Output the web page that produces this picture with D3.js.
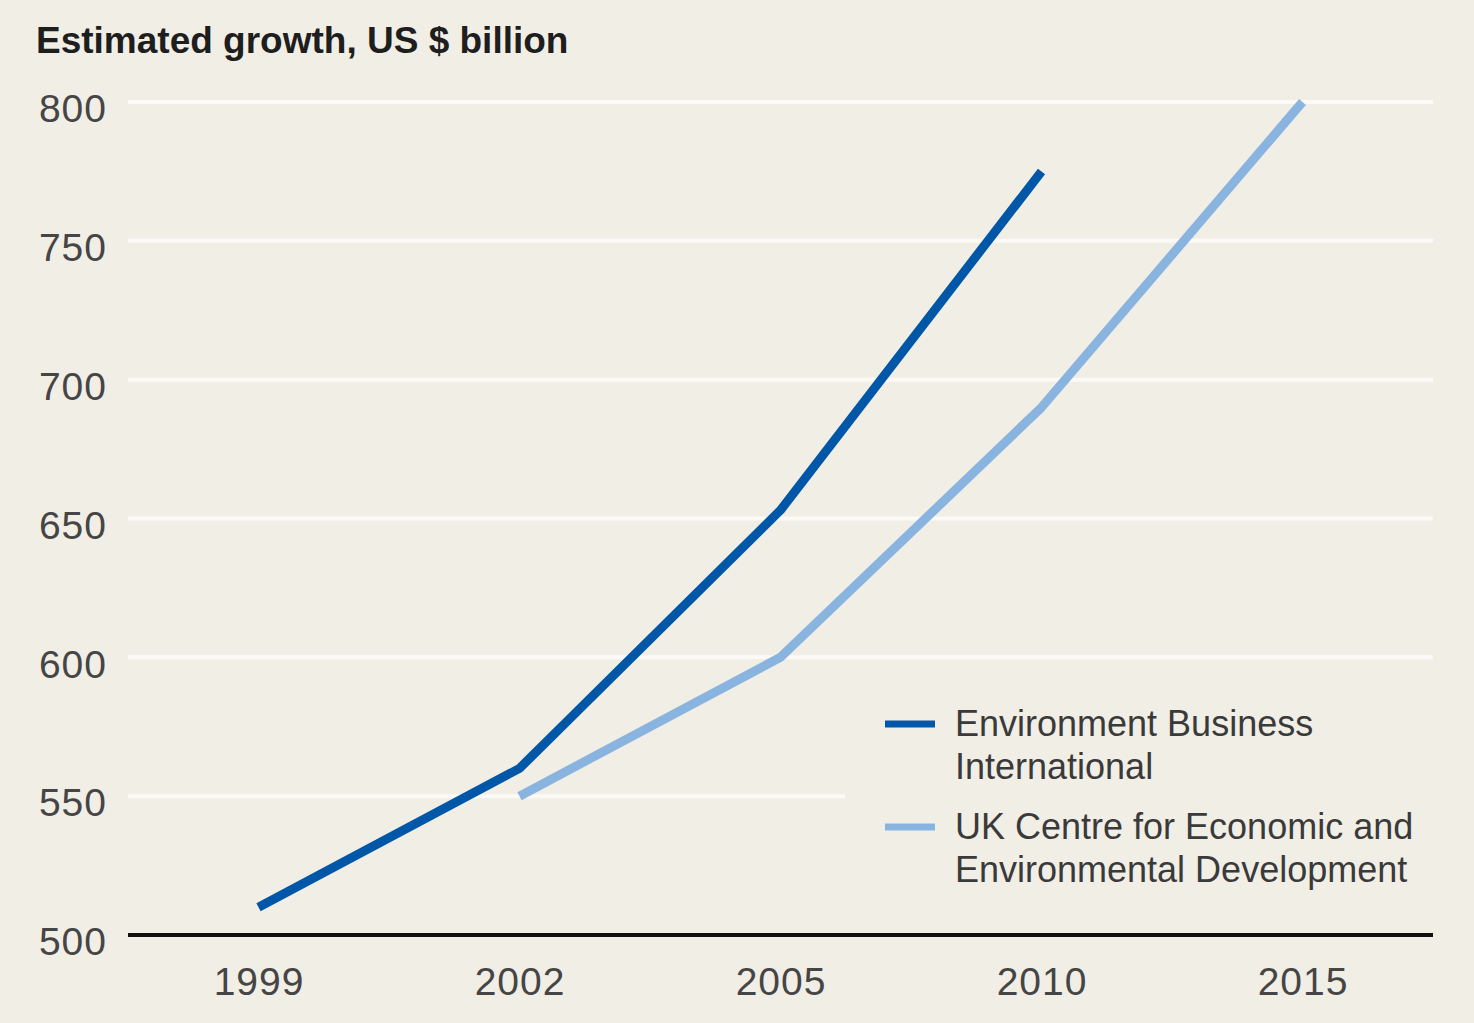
<!DOCTYPE html>
<html>
<head>
<meta charset="utf-8">
<script src="https://cdn.jsdelivr.net/npm/d3@7"></script>
<style>
  html, body { margin: 0; padding: 0; background: #f1eee6; }
  svg { display: block; }
  text { font-family: "Liberation Sans", Arial, sans-serif; }
</style>
</head>
<body>
<svg id="chart" width="1474" height="1023"></svg>
<script>
// Categories along the x axis
const years = ["1999", "2002", "2005", "2010", "2015"];

// Series values, US $ billion (null = no estimate for that year)
const ebiValues = [510, 560, 653, 775, null];
const ukceedValues = [null, 550, 600, 690, 800];

// Series names, split the way they wrap in the legend
const ebiLabel = ["Environment Business", "International"];
const ukceedLabel = ["UK Centre for Economic and", "Environmental Development"];

// Y axis ticks
const yTicks = [500, 550, 600, 650, 700, 750, 800];

const title = "Estimated growth, US $ billion";

const colors = { ebi: "#0057a8", ukceed: "#8ab4e0" };

const svg = d3.select("#chart");
const W = 1474, H = 1023;
const margin = { left: 128, right: 41, top: 102, bottom: 88 };

svg.append("rect").attr("width", W).attr("height", H).attr("fill", "#f1eee6");

const x = d3.scalePoint()
  .domain(years)
  .range([margin.left, W - margin.right])
  .padding(0.5);

const y = d3.scaleLinear()
  .domain([500, 800])
  .range([H - margin.bottom, margin.top]);

// Gridlines
svg.append("g")
  .selectAll("line")
  .data(yTicks.filter(d => d > 500))
  .join("line")
  .attr("x1", margin.left)
  .attr("x2", W - margin.right)
  .attr("y1", d => y(d))
  .attr("y2", d => y(d))
  .attr("stroke", "#fbfaf6")
  .attr("stroke-width", 4);

// Y tick labels, set slightly below their gridlines
svg.append("g")
  .selectAll("text")
  .data(yTicks)
  .join("text")
  .attr("x", 107)
  .attr("y", d => y(d) + 10)
  .attr("text-anchor", "end")
  .attr("dominant-baseline", "middle")
  .attr("font-size", 39)
  .attr("fill", "#454545")
  .style("letter-spacing", "1px")
  .text(d => d);

// Legend panel sits over the gridlines
const legendX = 845;
svg.append("rect")
  .attr("x", legendX)
  .attr("y", y(580))
  .attr("width", W - margin.right - legendX)
  .attr("height", y(503) - y(580))
  .attr("fill", "#f1eee6");

// Series lines
const line = d3.line()
  .defined(d => d.v != null)
  .x(d => x(d.year))
  .y(d => y(d.v));

const series = [
  { key: "ebi", values: ebiValues, label: ebiLabel },
  { key: "ukceed", values: ukceedValues, label: ukceedLabel }
];

svg.append("g")
  .selectAll("path")
  .data(series)
  .join("path")
  .attr("d", s => line(years.map((yr, i) => ({ year: yr, v: s.values[i] }))))
  .attr("fill", "none")
  .attr("stroke", s => colors[s.key])
  .attr("stroke-width", 9)
  .attr("stroke-linejoin", "round")
  .attr("stroke-linecap", "butt");

// Baseline axis
const xAxis = svg.append("g")
  .attr("transform", `translate(0,${y(500)})`)
  .call(d3.axisBottom(x).tickSize(0).tickPadding(32));
xAxis.select(".domain")
  .attr("d", `M${margin.left},0H${W - margin.right}`)
  .attr("stroke", "#111")
  .attr("stroke-width", 4);
xAxis.selectAll("text")
  .attr("font-family", "Liberation Sans, Arial, sans-serif")
  .attr("font-size", 39)
  .attr("fill", "#454545")
  .style("letter-spacing", "1px");

// Title
svg.append("text")
  .attr("x", 36)
  .attr("y", 53)
  .attr("font-size", 37)
  .attr("font-weight", "bold")
  .attr("fill", "#1e1e1e")
  .text(title);

// Legend entries
const legendRows = [
  { key: "ebi", label: ebiLabel, top: 724 },
  { key: "ukceed", label: ukceedLabel, top: 827 }
];
const lg = svg.append("g");
legendRows.forEach(r => {
  lg.append("line")
    .attr("x1", 885).attr("x2", 935)
    .attr("y1", r.top).attr("y2", r.top)
    .attr("stroke", colors[r.key])
    .attr("stroke-width", 7);
  const t = lg.append("text")
    .attr("x", 955)
    .attr("y", r.top + 12)
    .attr("font-size", 36)
    .attr("fill", "#3a3a3a");
  r.label.forEach((ln, i) => {
    t.append("tspan").attr("x", 955).attr("dy", i === 0 ? 0 : 43).text(ln);
  });
});
</script>
</body>
</html>
